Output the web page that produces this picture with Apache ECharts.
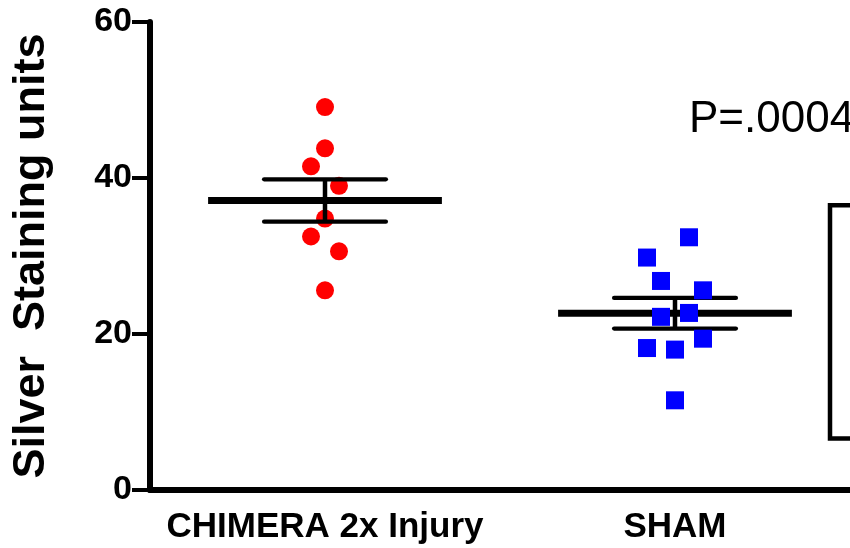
<!DOCTYPE html>
<html>
<head>
<meta charset="utf-8">
<script src="https://cdn.jsdelivr.net/npm/echarts@6/dist/echarts.min.js"></script>
<style>
  html, body { margin: 0; padding: 0; background: #ffffff; }
  #chart { width: 850px; height: 548px; }
</style>
</head>
<body>
<div id="chart"></div>
<script>
// Groups and measured values
const categories = ['CHIMERA 2x Injury', 'SHAM'];
const injuryValues = [49.1, 43.8, 41.5, 39.0, 34.8, 32.5, 30.6, 25.6];
const shamValues = [32.4, 29.8, 26.8, 25.6, 22.7, 22.2, 19.4, 18.2, 18.0, 11.5];
// Column slot of each point inside its group (scatter spread)
const injurySlots = [0, 0, -1, 1, 0, -1, 1, 0];
const shamSlots = [1, -2, -1, 2, 1, -1, 2, -2, 0, 0];
const yTicks = [0, 20, 40, 60];
const pLabel = 'P=.0004';
// Bracket end values on the y scale
const bracketTop = 36.5;
const bracketBottom = 6.6;

const FONT = '"Liberation Sans", Arial, Helvetica, sans-serif';
const SLOT_PX = 14;

function meanSem(arr) {
  const n = arr.length;
  const m = arr.reduce((a, b) => a + b, 0) / n;
  const sd = Math.sqrt(arr.reduce((a, b) => a + (b - m) * (b - m), 0) / (n - 1));
  return [m, sd / Math.sqrt(n)];
}

function pointsFor(catIndex, values, slots) {
  return values.map((v, i) => ({
    value: [catIndex, v],
    symbolOffset: [slots[i] * SLOT_PX, 0]
  }));
}

const stats = [injuryValues, shamValues].map((vals, i) => {
  const [m, s] = meanSem(vals);
  return [i, m, m - s, m + s];
});

const chart = echarts.init(document.getElementById('chart'), null, { renderer: 'canvas' });

const option = {
  backgroundColor: '#ffffff',
  animation: false,
  grid: { left: 150, right: 0, top: 22, bottom: 58, containLabel: false },
  xAxis: {
    type: 'category',
    data: categories,
    axisLine: { lineStyle: { color: '#000', width: 6 } },
    axisTick: { alignWithLabel: true, interval: 0, length: 18, lineStyle: { color: '#000', width: 4 } },
    axisLabel: {
      interval: 0,
      hideOverlap: false,
      margin: 20,
      color: '#000',
      fontFamily: FONT,
      fontWeight: 'bold',
      fontSize: 35
    },
    splitLine: { show: false }
  },
  yAxis: {
    type: 'value',
    min: yTicks[0],
    max: yTicks[yTicks.length - 1],
    interval: 20,
    name: 'Silver  Staining units',
    nameLocation: 'middle',
    nameGap: 96,
    nameRotate: 90,
    nameTextStyle: { color: '#000', fontFamily: FONT, fontWeight: 'bold', fontSize: 45 },
    axisLine: { show: true, lineStyle: { color: '#000', width: 6 } },
    axisTick: { show: true, length: 18, lineStyle: { color: '#000', width: 4 } },
    axisLabel: {
      margin: 18,
      color: '#000',
      fontFamily: FONT,
      fontWeight: 'bold',
      fontSize: 34
    },
    splitLine: { show: false }
  },
  series: [
    {
      name: 'CHIMERA 2x Injury',
      type: 'scatter',
      symbol: 'circle',
      symbolSize: 18,
      itemStyle: { color: '#ff0000', opacity: 1 },
      data: pointsFor(0, injuryValues, injurySlots),
      z: 2
    },
    {
      name: 'Mean ± SEM',
      type: 'custom',
      data: stats,
      z: 3,
      renderItem: function (params, api) {
        const band = api.size([1, 0])[0];
        const c = api.coord([api.value(0), api.value(1)]);
        const lo = api.coord([api.value(0), api.value(2)]);
        const hi = api.coord([api.value(0), api.value(3)]);
        const meanHalf = band * 0.334;
        const capHalf = band * 0.174;
        const style = { stroke: '#000', fill: null };
        return {
          type: 'group',
          children: [
            { type: 'line', shape: { x1: c[0], y1: hi[1], x2: c[0], y2: lo[1] }, style: Object.assign({ lineWidth: 4.5 }, style) },
            { type: 'line', shape: { x1: c[0] - capHalf, y1: hi[1], x2: c[0] + capHalf, y2: hi[1] }, style: Object.assign({ lineWidth: 4.3, lineCap: 'round' }, style) },
            { type: 'line', shape: { x1: c[0] - capHalf, y1: lo[1], x2: c[0] + capHalf, y2: lo[1] }, style: Object.assign({ lineWidth: 4.3, lineCap: 'round' }, style) },
            { type: 'line', shape: { x1: c[0] - meanHalf, y1: c[1], x2: c[0] + meanHalf, y2: c[1] }, style: Object.assign({ lineWidth: 7 }, style) }
          ]
        };
      }
    },
    {
      name: 'SHAM',
      type: 'scatter',
      symbol: 'rect',
      symbolSize: 18,
      itemStyle: { color: '#0000ff', opacity: 1 },
      data: pointsFor(1, shamValues, shamSlots),
      z: 4
    }
  ]
};

chart.setOption(option);

// Significance label and bracket at the right edge
const yTopPx = chart.convertToPixel({ yAxisIndex: 0 }, bracketTop);
const yBotPx = chart.convertToPixel({ yAxisIndex: 0 }, bracketBottom);
const bracketX = 830;
chart.setOption({
  graphic: [
    {
      type: 'text',
      left: 689,
      top: 98,
      style: { text: pLabel, fill: '#000', font: 'normal 44px ' + FONT }
    },
    {
      type: 'polyline',
      shape: { points: [[852, yTopPx], [bracketX, yTopPx], [bracketX, yBotPx], [852, yBotPx]] },
      style: { stroke: '#000', lineWidth: 4.5, fill: null, lineJoin: 'miter' }
    }
  ]
});
</script>
</body>
</html>
